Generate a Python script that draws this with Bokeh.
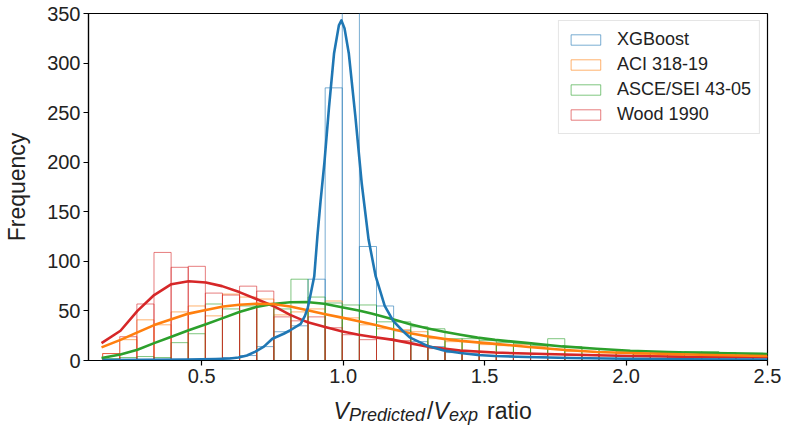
from bokeh.plotting import figure
from bokeh.layouts import column
from bokeh.models import Legend, LegendItem, Label, FixedTicker, PrintfTickFormatter, Range1d
from bokeh.embed import file_html
from bokeh.resources import INLINE

# ---------------- data ----------------
bin_start = 0.15
bin_width = 0.0605
n_bins = 39

series_names = ["XGBoost", "ACI 318-19", "ASCE/SEI 43-05", "Wood 1990"]
series_colors = ["#1f77b4", "#ff7f0e", "#2ca02c", "#d62728"]

xgb_counts = [0, 0, 1, 1, 1, 1, 2, 3, 5, 14, 29, 35, 82, 275, 372, 115, 55, 30, 19, 14,
              8, 7, 5, 5, 4, 4, 3, 3, 2, 2, 2, 1, 1, 1, 1, 1, 0, 1, 0]
aci_counts = [7, 21, 41, 36, 49, 55, 45, 67, 64, 62, 46, 49, 52, 60, 43, 36, 32, 31, 29, 22,
              19, 19, 16, 15, 16, 14, 11, 9, 6, 8, 7, 6, 5, 5, 4, 5, 4, 4, 4]
asce_counts = [2, 3, 4, 3, 18, 27, 57, 52, 55, 56, 52, 82, 64, 58, 56, 56, 39, 39, 34, 32,
               22, 22, 20, 18, 17, 15, 22, 14, 12, 11, 9, 9, 8, 8, 9, 9, 8, 7, 7]
wood_counts = [7, 24, 57, 109, 94, 95, 68, 66, 75, 70, 44, 40, 44, 33, 26, 21, 22, 20, 16, 12,
               10, 9, 8, 7, 7, 6, 6, 5, 5, 5, 4, 4, 4, 3, 3, 3, 3, 3, 3]

xgb_kde_x = [0.15, 0.30, 0.45, 0.55, 0.60, 0.63, 0.66, 0.69, 0.72, 0.75, 0.79, 0.81, 0.85, 0.865,
             0.875, 0.886, 0.898, 0.909, 0.92, 0.934, 0.95, 0.968, 0.985, 0.994, 1.005, 1.02,
             1.043, 1.066, 1.09, 1.115, 1.147, 1.177, 1.21, 1.237, 1.296, 1.356, 1.415, 1.476,
             1.537, 1.65, 1.8, 2.0, 2.2, 2.5]
xgb_kde_y = [0.5, 0.6, 1, 1.5, 2, 3, 5, 9, 14, 22, 27, 30, 37, 45,
             53, 68, 85, 125, 160, 200, 255, 310, 338, 343, 335, 310,
             247, 178, 122, 85, 55, 40, 30, 23, 15, 10, 7.5, 5.5,
             4.5, 3.5, 2.5, 1.8, 1.3, 1]

aci_kde_x = [0.146, 0.213, 0.273, 0.332, 0.393, 0.454, 0.515, 0.576, 0.633, 0.693, 0.75, 0.813,
             0.87, 0.933, 1.0, 1.055, 1.115, 1.176, 1.237, 1.296, 1.356, 1.415, 1.475, 1.537,
             1.656, 1.775, 1.896, 2.015, 2.15, 2.3, 2.5]
aci_kde_y = [13.2, 20.8, 28.4, 35.7, 41.6, 47.3, 51, 54.5, 56.2, 57.2, 57, 54.5,
             51, 47, 43, 39.6, 35.7, 31.5, 27.4, 24.5, 21.8, 19.8, 18.3, 16.8,
             13.6, 10.9, 8.6, 7.6, 6.5, 5.5, 4.5]

asce_kde_x = [0.146, 0.213, 0.273, 0.332, 0.393, 0.454, 0.515, 0.572, 0.633, 0.693, 0.75, 0.813,
              0.87, 0.933, 1.0, 1.055, 1.1, 1.176, 1.237, 1.296, 1.356, 1.415, 1.475, 1.537,
              1.656, 1.775, 1.896, 2.015, 2.15, 2.3, 2.5]
asce_kde_y = [2.6, 6, 10.9, 17.5, 24, 30.5, 36.5, 42.5, 49, 54, 57, 58.8,
              59, 57.2, 53.5, 50.5, 47.3, 41.5, 36.5, 32.5, 29, 26, 23.1, 20.8,
              17.5, 14.2, 11.9, 9.9, 8.5, 7.5, 6.6]

wood_kde_x = [0.146, 0.213, 0.273, 0.332, 0.393, 0.454, 0.515, 0.572, 0.633, 0.693, 0.753, 0.813,
              0.875, 0.933, 0.994, 1.055, 1.1, 1.177, 1.236, 1.295, 1.355, 1.415, 1.537, 1.714,
              1.896, 2.015, 2.2, 2.5]
wood_kde_y = [17.5, 30, 50, 66, 77, 80, 78.6, 75, 69, 62, 55, 46,
              38.5, 34, 29.5, 26, 24, 20.8, 17.5, 14.2, 12, 10, 8, 6.6,
              5.3, 4.5, 3.8, 3.3]

x_ticks = [0.5, 1.0, 1.5, 2.0, 2.5]
y_ticks = [0, 50, 100, 150, 200, 250, 300, 350]

# ---------------- main figure ----------------
FONT = "Liberation Sans"
TXT = "#222222"
p = figure(width=781, height=395, output_backend="svg", toolbar_location=None,
           x_range=Range1d(0.1, 2.5), y_range=Range1d(0, 350),
           min_border_left=88, min_border_right=14, min_border_top=13, min_border_bottom=35)
p.grid.visible = False
p.outline_line_color = "black"
p.outline_line_width = 1.2
p.background_fill_color = "white"
p.border_fill_color = "white"

edges = [bin_start + i * bin_width for i in range(n_bins + 1)]
lefts = edges[:-1]
rights = edges[1:]

all_counts = [xgb_counts, aci_counts, asce_counts, wood_counts]
all_kde = [(xgb_kde_x, xgb_kde_y), (aci_kde_x, aci_kde_y),
           (asce_kde_x, asce_kde_y), (wood_kde_x, wood_kde_y)]

hist_renderers = []
for counts, color in zip(all_counts, series_colors):
    r = p.quad(left=lefts, right=rights, bottom=0, top=counts,
               fill_color=None, line_color=color, line_alpha=0.6, line_width=1)
    hist_renderers.append(r)

for (kx, ky), color in reversed(list(zip(all_kde, series_colors))):
    p.line(kx, ky, line_color=color, line_width=2.6, line_join="round")

for ax in (p.xaxis, p.yaxis):
    ax.axis_line_color = "black"
    ax.axis_line_width = 1.2
    ax.major_tick_line_color = "black"
    ax.major_tick_line_width = 1.2
    ax.major_tick_out = 5
    ax.major_tick_in = 0
    ax.minor_tick_line_color = None
    ax.major_label_text_font = FONT
    ax.major_label_text_font_size = "20px"
    ax.major_label_text_color = TXT
    ax.major_label_standoff = 3

p.xaxis.ticker = FixedTicker(ticks=x_ticks)
p.xaxis.formatter = PrintfTickFormatter(format="%.1f")
p.yaxis.ticker = FixedTicker(ticks=y_ticks)
p.yaxis.axis_label = "Frequency"
p.yaxis.axis_label_text_font = FONT
p.yaxis.axis_label_text_font_size = "23px"
p.yaxis.axis_label_text_font_style = "normal"
p.yaxis.axis_label_text_color = TXT
p.yaxis.axis_label_standoff = 14

legend = Legend(items=[LegendItem(label=n, renderers=[r]) for n, r in zip(series_names, hist_renderers)],
                location="top_right")
legend.label_text_font = FONT
legend.label_text_font_size = "18px"
legend.label_text_color = TXT
legend.glyph_width = 37
legend.glyph_height = 13
legend.label_height = 20
legend.label_standoff = 13
legend.spacing = 4
legend.padding = 8
legend.margin = 7
legend.border_line_color = "#cccccc"
legend.border_line_width = 1
legend.background_fill_color = "white"
legend.background_fill_alpha = 0.8
p.add_layout(legend)

# ---------------- x-axis title strip (math-like label) ----------------
p2 = figure(width=781, height=30, output_backend="svg", toolbar_location=None,
            x_axis_location=None, y_axis_location=None,
            min_border_left=0, min_border_right=0, min_border_top=0, min_border_bottom=0)
p2.outline_line_color = None
p2.grid.visible = False
p2.background_fill_color = "white"
p2.border_fill_color = "white"

label_parts = [
    # text, x px (from frame left), y px (from bottom), size, style
    ("V", 245, 15, "23px", "italic"),
    ("Predicted", 260.5, 11, "18px", "italic"),
    ("/", 338.5, 15, "23px", "normal"),
    ("V", 345, 15, "23px", "italic"),
    ("exp", 360.5, 11, "18px", "italic"),
    ("ratio", 398.5, 15, "23px", "normal"),
]
for txt, lx, ly, size, style in label_parts:
    p2.add_layout(Label(x=lx, y=ly, x_units="screen", y_units="screen", text=txt,
                        text_font=FONT, text_font_size=size, text_font_style=style,
                        text_color=TXT, text_baseline="alphabetic", text_align="left"))

layout = column(p, p2, spacing=0)
open("out.html", "w").write(file_html(layout, INLINE))
